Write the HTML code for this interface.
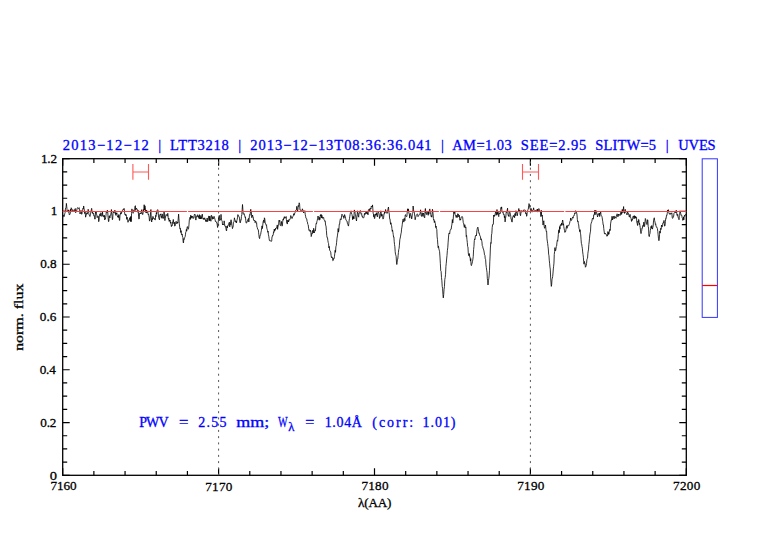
<!DOCTYPE html>
<html><head><meta charset="utf-8"><style>
html,body{margin:0;padding:0;background:#fff;}
body{width:782px;height:542px;overflow:hidden;}
svg{display:block;}
</style></head><body>
<svg width="782" height="542" viewBox="0 0 782 542">
<rect x="62.7" y="158.7" width="623.60" height="316.60" fill="none" stroke="#000" stroke-width="1.3"/>
<path d="M62.70 475.3v-7M62.70 158.7v7M93.88 475.3v-4.2M93.88 158.7v4.2M125.06 475.3v-4.2M125.06 158.7v4.2M156.24 475.3v-4.2M156.24 158.7v4.2M187.42 475.3v-4.2M187.42 158.7v4.2M218.60 475.3v-7M218.60 158.7v7M249.78 475.3v-4.2M249.78 158.7v4.2M280.96 475.3v-4.2M280.96 158.7v4.2M312.14 475.3v-4.2M312.14 158.7v4.2M343.32 475.3v-4.2M343.32 158.7v4.2M374.50 475.3v-7M374.50 158.7v7M405.68 475.3v-4.2M405.68 158.7v4.2M436.86 475.3v-4.2M436.86 158.7v4.2M468.04 475.3v-4.2M468.04 158.7v4.2M499.22 475.3v-4.2M499.22 158.7v4.2M530.40 475.3v-7M530.40 158.7v7M561.58 475.3v-4.2M561.58 158.7v4.2M592.76 475.3v-4.2M592.76 158.7v4.2M623.94 475.3v-4.2M623.94 158.7v4.2M655.12 475.3v-4.2M655.12 158.7v4.2M686.30 475.3v-7M686.30 158.7v7M62.7 475.30h7M686.3 475.30h-7M62.7 462.11h4.5M686.3 462.11h-4.5M62.7 448.92h4.5M686.3 448.92h-4.5M62.7 435.73h4.5M686.3 435.73h-4.5M62.7 422.53h7M686.3 422.53h-7M62.7 409.34h4.5M686.3 409.34h-4.5M62.7 396.15h4.5M686.3 396.15h-4.5M62.7 382.96h4.5M686.3 382.96h-4.5M62.7 369.77h7M686.3 369.77h-7M62.7 356.57h4.5M686.3 356.57h-4.5M62.7 343.38h4.5M686.3 343.38h-4.5M62.7 330.19h4.5M686.3 330.19h-4.5M62.7 317.00h7M686.3 317.00h-7M62.7 303.81h4.5M686.3 303.81h-4.5M62.7 290.62h4.5M686.3 290.62h-4.5M62.7 277.42h4.5M686.3 277.42h-4.5M62.7 264.23h7M686.3 264.23h-7M62.7 251.04h4.5M686.3 251.04h-4.5M62.7 237.85h4.5M686.3 237.85h-4.5M62.7 224.66h4.5M686.3 224.66h-4.5M62.7 211.47h7M686.3 211.47h-7M62.7 198.27h4.5M686.3 198.27h-4.5M62.7 185.08h4.5M686.3 185.08h-4.5M62.7 171.89h4.5M686.3 171.89h-4.5M62.7 158.70h7M686.3 158.70h-7" stroke="#000" stroke-width="1.2" fill="none"/>
<line x1="218.60" y1="158.7" x2="218.60" y2="475.3" stroke="#555" stroke-width="1.0" stroke-dasharray="2 4.243" stroke-dashoffset="3.486"/>
<line x1="530.40" y1="158.7" x2="530.40" y2="475.3" stroke="#555" stroke-width="1.0" stroke-dasharray="2 4.243" stroke-dashoffset="3.486"/>
<polyline points="63.00,215.00 63.40,215.12 63.80,216.77 64.20,216.50 64.50,214.89 64.80,213.49 65.10,212.70 65.42,208.98 65.75,207.73 66.08,207.39 66.40,203.40 66.73,206.50 67.07,209.89 67.40,210.80 67.72,211.55 68.04,212.15 68.36,212.22 68.68,209.82 69.00,212.70 69.30,214.93 69.60,214.60 69.92,214.41 70.25,213.45 70.58,209.21 70.90,210.80 71.20,207.75 71.50,208.60 71.80,209.50 72.13,209.23 72.47,210.82 72.80,210.80 73.10,210.93 73.40,211.98 73.70,211.40 74.03,209.81 74.35,210.61 74.67,210.12 75.00,208.90 75.33,208.54 75.67,212.74 76.00,210.80 76.33,211.00 76.67,211.33 77.00,208.90 77.38,207.87 77.75,207.59 78.12,208.08 78.50,208.50 78.85,207.89 79.20,207.60 79.50,210.68 79.80,212.24 80.10,214.00 80.43,212.26 80.77,210.43 81.10,210.80 81.40,210.85 81.70,214.30 82.00,213.30 82.33,210.39 82.67,210.27 83.00,208.20 83.33,208.84 83.67,205.97 84.00,208.20 84.30,209.97 84.60,213.56 84.90,213.30 85.25,212.23 85.60,217.20 85.90,215.85 86.20,215.31 86.50,214.60 86.83,212.74 87.17,214.08 87.50,212.70 87.83,211.97 88.17,209.24 88.50,210.80 88.80,213.54 89.10,214.80 89.40,215.30 89.73,216.29 90.07,216.59 90.40,214.00 90.70,213.14 91.00,211.38 91.30,209.80 91.65,208.35 92.00,210.80 92.30,212.79 92.60,212.02 92.90,214.00 93.23,213.95 93.57,213.37 93.90,215.90 94.20,215.52 94.50,217.24 94.80,219.10 95.13,219.10 95.47,212.19 95.80,213.30 96.13,211.55 96.47,214.53 96.80,214.60 97.10,217.63 97.40,217.20 97.70,217.20 98.03,215.85 98.37,216.42 98.70,221.70 99.00,220.50 99.30,217.13 99.60,216.50 99.92,213.87 100.25,216.07 100.58,215.30 100.90,212.70 101.23,214.20 101.57,215.60 101.90,216.50 102.20,214.95 102.50,212.10 102.82,215.51 103.14,215.07 103.46,215.94 103.78,217.00 104.10,217.20 104.43,215.28 104.77,219.99 105.10,218.50 105.40,218.87 105.70,217.16 106.00,215.30 106.33,211.04 106.65,211.75 106.97,212.66 107.30,210.10 107.70,211.25 108.10,217.56 108.50,221.70 108.83,221.30 109.17,215.87 109.50,215.90 109.83,217.99 110.15,216.08 110.47,214.70 110.80,214.60 111.10,212.54 111.40,209.50 111.73,213.87 112.07,216.48 112.40,219.70 112.70,218.89 113.00,213.64 113.30,212.10 113.62,211.15 113.95,213.01 114.27,211.17 114.60,210.80 114.90,210.11 115.20,213.49 115.50,212.70 115.83,215.33 116.17,212.90 116.50,214.00 116.83,212.73 117.15,215.40 117.47,216.18 117.80,217.20 118.10,215.89 118.40,217.57 118.70,214.60 119.05,215.96 119.40,220.40 119.70,220.36 120.00,214.63 120.30,214.60 120.62,212.62 120.95,213.95 121.27,213.89 121.60,211.40 121.92,212.21 122.25,210.97 122.58,210.19 122.90,209.50 123.23,209.48 123.55,209.86 123.88,208.49 124.20,208.50 124.50,211.67 124.80,214.00 125.12,215.01 125.45,214.30 125.77,215.60 126.10,214.60 126.43,216.32 126.77,219.35 127.10,217.20 127.40,219.39 127.70,219.96 128.00,222.30 128.33,220.87 128.67,220.55 129.00,219.70 129.32,220.46 129.65,217.95 129.98,218.40 130.30,217.20 130.60,221.46 130.90,216.35 131.20,221.70 131.55,213.61 131.90,208.90 132.30,210.73 132.70,212.43 133.10,213.30 133.43,212.56 133.75,210.45 134.07,210.98 134.40,208.90 134.73,208.26 135.07,205.98 135.40,205.70 135.70,210.41 136.00,208.37 136.30,208.90 136.62,208.37 136.95,209.35 137.28,209.46 137.60,210.10 137.93,212.26 138.25,210.51 138.57,216.12 138.90,219.10 139.20,218.68 139.50,213.48 139.80,213.30 140.12,212.82 140.44,213.97 140.76,213.44 141.08,214.02 141.40,211.40 141.72,209.65 142.05,212.47 142.38,213.29 142.70,214.60 143.05,212.98 143.40,209.50 143.78,210.76 144.16,204.72 144.54,209.99 144.92,205.81 145.30,207.60 145.60,211.17 145.90,212.70 146.22,209.99 146.55,212.01 146.88,213.07 147.20,210.80 147.52,211.38 147.85,212.69 148.18,214.40 148.50,214.00 148.82,215.81 149.15,217.07 149.48,221.10 149.80,220.40 150.17,218.34 150.53,212.69 150.90,209.50 151.30,219.87 151.70,222.00 152.07,218.45 152.43,219.71 152.80,216.50 153.15,216.55 153.50,217.60 153.85,218.91 154.20,218.30 154.60,219.53 155.00,220.10 155.33,219.86 155.67,215.41 156.00,216.50 156.35,212.61 156.70,214.17 157.05,210.18 157.40,210.00 157.70,209.69 158.00,210.26 158.30,213.70 158.60,217.43 158.90,218.49 159.20,219.20 159.50,219.88 159.80,214.73 160.10,214.60 160.45,215.08 160.80,213.84 161.15,217.17 161.50,216.50 161.83,218.25 162.17,213.90 162.50,214.60 162.80,218.17 163.10,218.55 163.40,218.30 163.70,216.20 164.00,211.68 164.30,212.80 164.60,218.81 164.90,220.60 165.30,218.46 165.70,215.70 166.10,214.60 166.45,214.97 166.80,214.76 167.15,216.17 167.50,213.70 167.85,213.32 168.20,217.70 168.55,219.38 168.90,218.30 169.20,221.41 169.50,219.90 169.80,221.10 170.13,220.28 170.47,223.23 170.80,222.00 171.10,224.47 171.40,226.60 171.80,225.25 172.20,225.67 172.60,222.00 172.95,222.05 173.30,219.45 173.65,222.77 174.00,223.80 174.35,222.17 174.70,226.10 175.07,225.96 175.43,223.84 175.80,222.00 176.15,221.31 176.50,222.44 176.85,223.92 177.20,222.90 177.50,222.09 177.80,223.02 178.10,220.10 178.60,214.10 178.95,218.86 179.30,223.80 179.67,226.89 180.03,229.10 180.40,228.40 180.75,232.44 181.10,230.64 181.45,234.59 181.80,234.90 182.15,233.94 182.50,236.97 182.85,237.51 183.20,242.30 183.50,242.97 183.80,238.59 184.10,239.50 184.43,238.55 184.77,237.35 185.10,236.70 185.43,234.83 185.75,232.16 186.07,231.58 186.40,229.40 186.73,231.15 187.07,227.60 187.40,226.60 187.80,228.00 188.20,229.30 188.60,228.40 188.97,224.74 189.33,219.78 189.70,218.30 190.05,217.24 190.40,219.46 190.75,215.16 191.10,217.40 191.43,216.15 191.75,218.21 192.07,217.54 192.40,216.00 192.75,216.59 193.10,218.36 193.45,217.97 193.80,218.30 194.15,215.61 194.50,214.10 194.85,214.57 195.20,214.60 195.55,218.73 195.90,220.10 196.20,218.05 196.50,216.35 196.80,216.50 197.18,215.60 197.56,214.72 197.94,217.10 198.32,215.77 198.70,217.80 199.06,218.55 199.42,214.66 199.78,218.89 200.14,217.64 200.50,218.80 200.85,215.41 201.20,218.94 201.55,216.96 201.90,216.90 202.25,214.13 202.60,216.74 202.95,219.06 203.30,219.20 203.65,218.16 204.00,219.67 204.35,219.27 204.70,217.80 205.05,219.37 205.40,219.44 205.75,221.53 206.10,220.10 206.45,221.44 206.80,221.48 207.15,218.02 207.50,221.50 207.82,221.47 208.15,220.71 208.48,216.93 208.80,216.00 209.15,216.22 209.50,220.76 209.85,216.14 210.20,219.70 210.55,219.35 210.90,221.24 211.25,215.16 211.60,215.50 211.95,217.01 212.30,219.28 212.65,216.74 213.00,217.40 213.35,218.34 213.70,218.95 214.05,216.34 214.40,217.80 214.75,218.49 215.10,219.89 215.45,221.51 215.80,221.10 216.10,221.65 216.40,222.01 216.70,222.90 217.00,222.91 217.30,225.43 217.60,227.50 217.90,226.07 218.20,222.12 218.50,219.20 218.80,216.69 219.10,215.47 219.40,215.50 219.73,220.73 220.07,219.68 220.40,219.20 220.70,219.69 221.00,214.38 221.30,217.80 221.60,219.83 221.90,220.72 222.20,221.10 222.50,224.86 222.80,224.21 223.10,224.80 223.45,224.35 223.80,224.88 224.15,220.83 224.50,223.40 224.85,226.20 225.20,226.39 225.55,226.10 225.90,228.40 226.25,230.29 226.60,230.91 226.95,226.00 227.30,228.00 227.65,225.85 228.00,226.14 228.35,224.83 228.70,223.40 229.05,222.90 229.40,222.14 229.75,226.88 230.10,223.80 230.43,224.68 230.75,220.66 231.07,219.76 231.40,221.10 231.75,225.25 232.10,225.78 232.45,228.63 232.80,227.50 233.10,226.88 233.40,222.53 233.70,222.00 234.05,221.92 234.40,217.81 234.75,219.45 235.10,220.10 235.45,220.71 235.80,222.28 236.15,221.11 236.50,222.90 236.85,220.64 237.20,219.44 237.55,217.24 237.90,214.60 238.30,216.19 238.70,216.18 239.10,216.50 239.47,218.15 239.83,221.95 240.20,222.90 240.50,222.04 240.80,219.79 241.10,220.10 241.45,216.41 241.80,214.60 242.15,209.55 242.50,204.50 242.85,209.14 243.20,214.10 243.53,214.20 243.87,213.83 244.20,213.70 244.50,215.20 244.80,215.97 245.10,217.40 245.45,216.89 245.80,220.78 246.15,223.11 246.50,222.90 246.82,222.75 247.15,221.02 247.48,221.17 247.80,219.70 248.13,219.02 248.47,218.39 248.80,222.00 249.10,219.62 249.40,215.67 249.70,214.60 250.05,215.26 250.40,212.07 250.75,209.31 251.10,212.80 251.40,212.47 251.70,217.63 252.00,216.50 252.30,216.23 252.60,215.05 252.90,217.40 253.20,217.15 253.50,219.98 253.80,220.10 254.13,220.85 254.47,220.37 254.80,220.10 255.10,222.66 255.40,221.83 255.70,221.10 256.00,221.67 256.30,223.20 256.60,222.90 256.95,227.01 257.30,227.61 257.65,229.31 258.00,229.40 258.30,229.61 258.60,232.84 258.90,234.90 259.25,237.84 259.60,238.60 259.95,236.31 260.30,234.90 260.65,234.65 261.00,232.09 261.35,230.71 261.70,227.50 262.05,225.81 262.40,228.57 262.75,225.24 263.10,222.00 263.43,220.63 263.75,220.04 264.07,222.74 264.40,217.80 264.75,218.79 265.10,222.11 265.45,223.77 265.80,223.80 266.15,225.21 266.50,224.85 266.85,228.28 267.20,229.40 267.50,230.54 267.80,232.29 268.10,231.20 268.43,234.84 268.77,236.17 269.10,238.60 269.40,240.48 269.70,240.61 270.00,240.40 270.35,240.96 270.70,240.98 271.05,240.78 271.40,241.40 271.70,240.86 272.00,236.69 272.30,236.70 272.60,235.16 272.90,235.51 273.20,234.90 273.55,231.78 273.90,232.40 274.25,229.11 274.60,231.20 274.90,229.24 275.20,230.19 275.50,228.40 275.85,229.02 276.20,227.87 276.55,227.38 276.90,227.50 277.25,224.92 277.60,229.34 277.95,226.92 278.30,225.70 278.60,225.47 278.90,220.64 279.20,220.10 279.50,221.39 279.80,220.50 280.10,224.80 280.43,225.64 280.77,225.54 281.10,223.80 281.43,221.43 281.75,224.67 282.07,226.17 282.40,225.70 282.73,221.19 283.07,219.23 283.40,220.10 283.72,218.05 284.05,218.26 284.38,216.65 284.70,218.30 285.05,217.90 285.40,217.77 285.75,217.90 286.10,216.50 286.40,219.52 286.70,222.69 287.00,222.40 287.32,224.07 287.64,220.27 287.96,221.40 288.28,220.49 288.60,222.00 288.96,219.55 289.32,220.20 289.68,219.49 290.04,219.38 290.40,217.80 290.76,215.54 291.12,216.18 291.48,218.13 291.84,217.98 292.20,218.40 292.60,216.93 293.00,216.31 293.40,215.40 293.76,213.66 294.12,215.25 294.48,214.13 294.84,212.87 295.20,212.40 295.60,210.59 296.00,210.54 296.40,210.00 296.80,206.32 297.20,209.33 297.60,211.20 297.92,209.58 298.24,205.58 298.56,206.46 298.88,204.70 299.20,202.80 299.60,204.33 300.00,210.00 300.40,210.02 300.80,210.33 301.20,211.20 301.60,211.09 302.00,210.52 302.40,208.80 302.80,210.15 303.20,210.32 303.60,213.00 304.00,211.98 304.40,211.30 304.80,210.60 305.20,214.30 305.60,216.24 306.00,218.40 306.36,218.52 306.72,218.77 307.08,221.44 307.44,222.09 307.80,224.40 308.20,224.73 308.60,228.23 309.00,230.40 309.36,229.78 309.72,230.80 310.08,231.54 310.44,230.26 310.80,231.00 311.20,236.59 311.60,235.20 311.93,233.12 312.27,233.65 312.60,230.40 312.96,231.06 313.32,233.03 313.68,228.28 314.04,231.19 314.40,232.80 314.76,231.25 315.12,229.86 315.48,230.54 315.84,225.60 316.20,223.20 316.56,223.68 316.92,221.47 317.28,220.30 317.64,218.21 318.00,216.00 318.40,217.17 318.80,219.56 319.20,220.20 319.56,217.38 319.92,219.57 320.28,215.07 320.64,215.77 321.00,214.20 321.36,217.98 321.72,215.06 322.08,216.03 322.44,218.34 322.80,217.20 323.20,218.04 323.60,217.59 324.00,219.60 324.40,220.39 324.80,221.27 325.20,220.80 325.60,225.07 326.00,226.04 326.40,230.40 326.76,235.43 327.12,237.70 327.48,237.63 327.84,240.40 328.20,242.40 328.56,243.44 328.92,247.88 329.28,246.38 329.64,250.13 330.00,250.80 330.36,251.28 330.72,252.16 331.08,255.48 331.44,257.60 331.80,256.80 332.15,257.68 332.50,257.58 332.85,260.72 333.20,260.40 333.52,258.89 333.84,257.99 334.16,258.36 334.48,256.34 334.80,253.20 335.16,250.26 335.52,252.31 335.88,246.73 336.24,245.74 336.60,242.40 337.00,238.23 337.40,235.93 337.80,232.80 338.16,228.50 338.52,232.12 338.88,229.81 339.24,224.26 339.60,224.40 340.00,220.54 340.40,218.77 340.80,219.60 341.20,219.56 341.60,215.31 342.00,214.20 342.36,214.95 342.72,215.41 343.08,216.54 343.44,215.93 343.80,218.40 344.20,217.60 344.60,214.58 345.00,215.90 345.32,216.92 345.65,218.61 345.98,219.98 346.30,220.40 346.68,221.07 347.06,221.08 347.44,223.70 347.82,223.75 348.20,225.50 348.52,226.10 348.85,223.15 349.18,220.08 349.50,218.50 349.82,216.25 350.14,214.37 350.46,212.47 350.78,211.81 351.10,210.80 351.40,212.51 351.70,214.11 352.00,214.60 352.32,216.43 352.65,219.70 352.98,216.47 353.30,218.50 353.62,216.59 353.95,218.84 354.28,209.92 354.60,210.80 354.90,211.28 355.20,213.59 355.50,214.60 355.83,216.96 356.17,219.48 356.50,221.00 356.83,217.24 357.17,214.75 357.50,210.80 357.90,213.01 358.30,216.22 358.70,217.20 359.02,212.91 359.35,212.97 359.68,212.85 360.00,211.40 360.32,210.50 360.65,211.13 360.98,214.29 361.30,214.00 361.63,213.66 361.97,216.22 362.30,215.90 362.70,217.65 363.10,217.63 363.50,217.80 363.82,217.76 364.15,216.04 364.48,213.29 364.80,214.60 365.12,213.93 365.45,214.03 365.78,211.93 366.10,212.10 366.42,212.19 366.74,213.70 367.06,211.50 367.38,214.02 367.70,213.30 368.03,214.83 368.37,209.93 368.70,209.50 369.08,209.46 369.46,208.75 369.84,211.03 370.22,208.93 370.60,208.20 370.93,209.07 371.25,206.21 371.57,206.75 371.90,206.30 372.20,206.92 372.50,204.90 372.80,208.20 373.15,213.26 373.50,214.00 373.80,216.85 374.10,214.38 374.40,218.50 374.72,218.49 375.05,216.05 375.38,215.80 375.70,214.00 376.02,215.02 376.35,212.70 376.68,215.11 377.00,215.90 377.40,216.87 377.80,212.50 378.20,212.10 378.52,212.17 378.85,213.26 379.18,215.07 379.50,218.50 379.82,217.08 380.15,217.19 380.48,213.37 380.80,210.80 381.13,212.23 381.47,216.28 381.80,214.00 382.20,214.92 382.60,216.39 383.00,219.10 383.32,218.62 383.65,217.37 383.98,213.75 384.30,214.00 384.62,211.61 384.94,213.16 385.26,212.45 385.58,209.48 385.90,210.80 386.22,211.12 386.55,211.24 386.88,213.37 387.20,213.30 387.52,211.55 387.85,210.02 388.18,208.04 388.50,207.00 388.90,212.08 389.30,214.00 389.63,218.75 389.97,218.78 390.30,222.00 390.62,224.22 390.95,222.76 391.28,224.96 391.60,225.80 391.93,228.55 392.25,231.32 392.57,230.10 392.90,232.30 393.22,234.44 393.55,237.09 393.88,236.80 394.20,241.30 394.52,244.55 394.85,246.74 395.18,251.53 395.50,254.20 395.82,255.08 396.15,256.38 396.48,261.98 396.80,264.50 397.12,262.64 397.45,259.18 397.78,259.08 398.10,255.50 398.43,252.52 398.75,249.44 399.07,248.49 399.40,245.20 399.80,239.81 400.20,238.12 400.60,236.10 400.93,233.82 401.25,232.87 401.57,229.11 401.90,227.10 402.30,224.21 402.70,220.40 403.08,219.16 403.46,220.33 403.84,222.12 404.22,218.33 404.60,219.10 404.90,220.75 405.20,215.30 405.52,214.63 405.85,215.93 406.18,216.46 406.50,216.50 406.88,216.52 407.26,211.60 407.64,208.79 408.02,211.33 408.40,208.90 408.73,211.99 409.07,213.64 409.40,214.60 409.70,218.11 410.00,214.04 410.30,213.30 410.64,214.46 410.98,216.25 411.32,216.19 411.66,218.92 412.00,217.20 412.38,213.34 412.75,212.64 413.12,206.03 413.50,209.20 413.83,212.02 414.17,211.84 414.50,214.00 414.83,216.65 415.17,219.76 415.50,217.80 415.90,216.72 416.30,215.28 416.70,214.60 417.02,214.11 417.34,213.86 417.66,214.43 417.98,216.60 418.30,215.90 418.62,215.63 418.95,215.35 419.28,214.67 419.60,214.60 419.93,214.37 420.27,212.14 420.60,209.80 420.90,212.64 421.20,215.90 421.52,216.42 421.85,214.72 422.18,212.75 422.50,214.00 422.82,216.33 423.15,215.00 423.48,213.01 423.80,214.60 424.10,217.28 424.40,217.25 424.70,217.80 425.05,210.80 425.40,208.50 425.70,212.95 426.00,213.07 426.30,214.60 426.65,214.34 427.00,211.40 427.40,213.00 427.80,213.78 428.20,215.30 428.52,211.70 428.84,214.20 429.16,211.51 429.48,209.75 429.80,208.90 430.13,211.33 430.47,212.82 430.80,214.60 431.13,216.48 431.47,215.78 431.80,217.20 432.10,214.78 432.40,209.26 432.70,210.10 433.05,213.67 433.40,218.50 433.70,220.11 434.00,219.70 434.33,222.54 434.67,220.82 435.00,222.20 435.36,223.48 435.72,227.50 436.08,226.09 436.44,229.14 436.80,229.50 437.13,236.95 437.47,239.43 437.80,244.30 438.16,247.62 438.52,246.19 438.88,249.05 439.24,250.10 439.60,251.70 439.98,257.05 440.36,263.75 440.74,270.82 441.12,271.42 441.50,277.60 441.86,280.80 442.22,286.47 442.58,288.20 442.94,294.59 443.30,297.90 443.68,294.70 444.06,289.36 444.44,286.52 444.82,279.34 445.20,277.60 445.56,274.30 445.92,266.40 446.28,263.24 446.64,259.01 447.00,255.40 447.38,250.36 447.76,247.81 448.14,242.20 448.52,237.04 448.90,233.20 449.27,233.22 449.65,233.97 450.02,230.81 450.40,230.00 450.80,229.18 451.20,229.13 451.60,225.90 451.98,224.08 452.36,219.53 452.74,222.98 453.12,220.33 453.50,214.80 453.82,211.12 454.15,213.34 454.48,213.33 454.80,212.00 455.15,214.82 455.50,215.75 455.85,215.72 456.20,217.50 456.58,215.38 456.96,216.57 457.34,217.43 457.72,213.71 458.10,214.80 458.48,214.36 458.86,216.96 459.24,215.19 459.62,218.81 460.00,220.30 460.33,219.12 460.66,219.92 460.99,217.66 461.31,216.86 461.64,217.07 461.97,217.05 462.30,216.60 462.62,217.20 462.95,219.82 463.28,222.53 463.60,223.00 463.98,225.72 464.36,227.44 464.74,224.64 465.12,226.13 465.50,227.70 465.86,226.94 466.22,236.47 466.58,235.49 466.94,239.49 467.30,242.50 467.62,246.51 467.95,246.91 468.28,252.87 468.60,255.40 468.98,255.81 469.35,253.56 469.73,257.19 470.10,257.20 470.43,261.09 470.75,258.60 471.07,264.71 471.40,265.60 471.77,264.29 472.15,263.06 472.52,261.39 472.90,259.10 473.25,256.43 473.60,249.51 473.95,246.54 474.30,240.60 474.64,238.89 474.98,239.49 475.32,236.08 475.66,236.04 476.00,235.10 476.38,235.85 476.75,232.07 477.12,229.31 477.50,227.70 477.86,227.08 478.22,228.71 478.58,231.29 478.94,233.51 479.30,233.20 479.68,234.96 480.06,236.23 480.44,236.50 480.82,239.71 481.20,238.80 481.56,240.05 481.92,241.66 482.28,245.65 482.64,246.26 483.00,248.00 483.38,249.06 483.76,250.10 484.14,252.05 484.52,254.86 484.90,255.40 485.26,258.89 485.62,259.51 485.98,264.92 486.34,267.51 486.70,270.20 487.02,272.40 487.35,278.76 487.68,280.88 488.00,285.00 488.38,280.80 488.75,278.79 489.12,275.88 489.50,270.20 489.80,261.77 490.10,256.06 490.40,248.00 490.76,242.63 491.12,243.35 491.48,235.08 491.84,233.55 492.20,227.70 492.58,224.51 492.96,224.48 493.34,224.37 493.72,215.01 494.10,216.60 494.48,215.03 494.86,215.51 495.24,213.70 495.62,211.92 496.00,212.00 496.32,215.23 496.65,212.12 496.98,209.53 497.30,212.00 497.67,214.48 498.03,211.82 498.40,215.60 498.75,216.63 499.10,213.33 499.45,213.72 499.80,212.80 500.18,213.62 500.55,210.83 500.93,207.49 501.30,208.50 501.65,206.86 502.00,212.07 502.35,212.31 502.70,212.10 503.05,211.40 503.40,214.44 503.75,214.42 504.10,214.20 504.43,217.74 504.77,215.94 505.10,221.90 505.47,218.18 505.83,216.72 506.20,212.10 506.53,212.50 506.87,212.02 507.20,210.00 507.57,208.18 507.93,213.99 508.30,215.60 508.63,214.94 508.97,216.63 509.30,211.40 509.67,210.90 510.03,212.77 510.40,214.20 510.75,216.18 511.10,219.38 511.45,219.31 511.80,221.90 512.15,222.05 512.50,217.57 512.85,217.58 513.20,215.60 513.55,215.33 513.90,216.89 514.25,216.14 514.60,217.70 514.95,213.55 515.30,215.84 515.65,212.91 516.00,210.70 516.35,211.09 516.70,213.45 517.05,215.86 517.40,215.60 517.75,212.36 518.10,211.88 518.45,211.08 518.80,208.50 519.15,210.89 519.50,211.20 519.85,210.14 520.20,214.90 520.55,215.71 520.90,213.29 521.25,211.77 521.60,210.70 521.95,210.63 522.30,211.80 522.65,211.11 523.00,212.10 523.38,210.04 523.75,209.94 524.12,209.63 524.50,210.00 524.85,209.96 525.20,210.01 525.55,213.58 525.90,213.50 526.25,212.94 526.60,216.30 526.93,215.42 527.27,211.04 527.60,210.70 527.95,209.45 528.30,209.21 528.65,205.68 529.00,203.60 529.35,204.25 529.70,207.10 530.07,208.37 530.43,209.72 530.80,210.70 531.15,208.45 531.50,210.49 531.85,211.99 532.20,212.10 532.55,210.32 532.90,210.07 533.25,209.98 533.60,207.80 533.95,209.85 534.30,210.96 534.65,211.38 535.00,211.40 535.35,210.62 535.70,210.67 536.05,209.94 536.40,210.00 536.75,210.06 537.10,210.78 537.45,208.99 537.80,212.10 538.15,210.90 538.50,210.66 538.85,208.54 539.20,209.30 539.55,210.14 539.90,211.82 540.25,211.68 540.60,212.80 540.93,216.61 541.27,210.29 541.60,214.90 541.96,216.13 542.32,215.24 542.68,220.99 543.04,225.04 543.40,222.60 543.80,220.75 544.20,226.59 544.60,228.30 544.90,227.98 545.20,225.65 545.50,225.00 545.90,229.13 546.30,231.60 546.64,231.22 546.98,238.84 547.32,241.10 547.66,243.55 548.00,246.50 548.32,248.96 548.64,254.14 548.96,255.79 549.28,260.19 549.60,263.20 549.94,267.07 550.28,269.11 550.62,277.07 550.96,282.06 551.30,286.40 551.64,284.85 551.98,279.73 552.32,278.31 552.66,276.61 553.00,273.00 553.32,268.92 553.64,266.26 553.96,263.09 554.28,254.44 554.60,251.50 554.94,247.62 555.28,250.78 555.62,250.79 555.96,248.88 556.30,246.50 556.64,246.06 556.98,242.25 557.32,240.45 557.66,241.19 558.00,238.20 558.32,234.51 558.64,230.84 558.96,229.74 559.28,232.66 559.60,226.60 559.94,229.17 560.28,224.93 560.62,224.55 560.96,225.67 561.30,225.00 561.62,223.04 561.94,225.29 562.26,222.36 562.58,220.01 562.90,220.80 563.20,224.70 563.50,223.79 563.80,226.60 564.17,228.87 564.53,230.45 564.90,232.40 565.27,231.25 565.63,231.52 566.00,229.31 566.37,226.90 566.73,225.67 567.10,228.30 567.46,225.69 567.81,225.73 568.17,226.12 568.53,225.53 568.89,225.56 569.24,224.19 569.60,223.30 569.96,221.40 570.31,220.81 570.67,217.98 571.03,220.19 571.39,220.46 571.74,219.81 572.10,218.30 572.42,217.62 572.74,217.04 573.06,218.20 573.38,216.32 573.70,215.80 574.04,215.91 574.38,214.67 574.72,213.12 575.06,213.76 575.40,210.80 575.72,210.78 576.04,211.94 576.36,212.11 576.68,212.96 577.00,215.00 577.34,219.31 577.68,221.60 578.02,220.97 578.36,223.77 578.70,224.90 579.04,228.32 579.38,229.43 579.72,231.69 580.06,229.65 580.40,233.20 580.72,234.90 581.04,239.20 581.36,243.33 581.68,244.00 582.00,246.50 582.34,248.21 582.68,251.97 583.02,254.51 583.36,257.21 583.70,261.50 584.03,264.18 584.35,261.41 584.67,262.81 585.00,263.20 585.40,267.24 585.80,266.58 586.20,265.60 586.54,263.62 586.88,259.72 587.22,258.78 587.56,258.11 587.90,253.20 588.22,251.13 588.54,249.09 588.86,244.35 589.18,241.97 589.50,238.20 589.84,234.92 590.18,232.88 590.52,231.21 590.86,224.13 591.20,223.30 591.56,222.02 591.91,221.29 592.27,218.89 592.63,218.10 592.99,218.55 593.34,219.19 593.70,215.00 594.05,215.16 594.40,213.92 594.75,210.32 595.10,214.76 595.45,211.20 595.80,210.30 596.14,211.59 596.48,211.30 596.82,214.23 597.16,214.02 597.50,217.00 597.80,216.01 598.10,215.50 598.40,213.70 598.72,213.93 599.04,214.48 599.36,212.96 599.68,216.56 600.00,214.60 600.33,213.62 600.67,211.87 601.00,214.60 601.38,215.69 601.75,216.20 602.12,217.21 602.50,220.10 602.82,221.75 603.14,224.90 603.46,224.87 603.78,228.61 604.10,231.00 604.48,233.89 604.85,233.52 605.23,233.02 605.60,234.00 605.93,234.49 606.27,234.42 606.60,234.83 606.93,236.30 607.27,235.36 607.60,235.80 607.92,231.55 608.24,234.49 608.56,232.55 608.88,234.22 609.20,232.60 609.54,229.90 609.89,229.25 610.23,230.51 610.57,223.89 610.91,221.98 611.26,219.77 611.60,220.10 611.93,216.28 612.26,216.83 612.59,219.96 612.91,218.23 613.24,216.15 613.57,216.50 613.90,218.50 614.26,218.90 614.61,216.29 614.97,216.38 615.32,216.91 615.68,217.92 616.03,218.28 616.39,216.39 616.74,214.54 617.10,213.80 617.44,214.25 617.79,216.86 618.13,216.48 618.48,214.05 618.82,215.38 619.17,215.30 619.51,215.12 619.86,214.47 620.20,215.40 620.54,212.71 620.89,213.20 621.23,210.98 621.58,214.44 621.92,212.70 622.27,209.39 622.61,212.59 622.96,211.14 623.30,209.10 623.62,206.56 623.94,212.50 624.26,211.27 624.58,213.48 624.90,210.70 625.24,209.30 625.59,212.38 625.93,212.66 626.27,212.77 626.61,213.17 626.96,214.94 627.30,213.80 627.63,212.02 627.96,212.85 628.29,213.08 628.61,214.79 628.94,215.18 629.27,217.09 629.60,217.00 630.00,214.30 630.38,216.47 630.75,217.90 631.12,218.61 631.50,221.40 631.88,219.46 632.25,220.28 632.62,218.72 633.00,216.30 633.34,216.51 633.69,215.93 634.03,218.80 634.38,215.63 634.72,217.55 635.07,218.36 635.41,216.29 635.76,217.98 636.10,216.80 636.48,217.30 636.85,222.67 637.23,223.62 637.60,225.50 637.93,221.09 638.27,222.44 638.60,219.40 638.92,219.68 639.24,224.56 639.56,223.24 639.88,225.63 640.20,227.50 640.60,230.97 641.00,233.60 641.34,231.48 641.68,230.75 642.02,227.91 642.36,228.13 642.70,225.50 643.08,225.76 643.45,226.32 643.83,222.12 644.20,226.50 644.58,226.47 644.95,223.00 645.33,218.50 645.70,219.40 646.07,221.21 646.43,223.43 646.80,224.40 647.13,224.51 647.47,219.78 647.80,219.90 648.17,226.40 648.55,228.01 648.92,236.02 649.30,236.60 649.63,234.35 649.97,233.55 650.30,230.50 650.67,228.70 651.05,226.33 651.42,228.39 651.80,225.50 652.13,227.53 652.47,229.14 652.80,227.50 653.17,225.92 653.53,220.91 653.90,218.90 654.27,217.78 654.65,220.67 655.02,222.01 655.40,224.40 655.73,223.86 656.07,226.64 656.40,226.94 656.73,226.73 657.07,228.08 657.40,228.50 657.77,231.33 658.15,234.92 658.52,238.78 658.90,240.70 659.22,239.70 659.54,234.79 659.86,231.12 660.18,233.08 660.50,228.50 660.83,228.34 661.17,229.49 661.50,225.04 661.83,226.67 662.17,226.87 662.50,226.50 662.88,222.81 663.25,222.68 663.62,223.01 664.00,220.40 664.33,223.72 664.67,226.19 665.00,225.50 665.38,221.65 665.75,218.30 666.12,218.63 666.50,215.30 666.88,215.59 667.26,213.35 667.64,209.99 668.02,211.99 668.40,209.70 668.80,212.42 669.20,213.60 669.60,214.30 669.98,213.19 670.35,214.01 670.73,214.36 671.10,212.80 671.48,213.36 671.85,212.83 672.23,217.49 672.60,218.40 672.95,218.02 673.30,216.22 673.65,216.43 674.00,213.12 674.35,212.78 674.70,211.80 675.08,210.94 675.45,211.86 675.83,212.99 676.20,210.20 676.58,210.85 676.95,215.33 677.33,215.57 677.70,214.30 678.03,216.85 678.37,217.91 678.70,218.40 679.02,219.74 679.34,215.49 679.66,214.27 679.98,211.53 680.30,211.80 680.67,213.38 681.05,215.57 681.42,215.22 681.80,215.30 682.13,217.63 682.47,218.40 682.80,220.40 683.13,219.97 683.47,216.90 683.80,219.92 684.13,217.05 684.47,215.33 684.80,216.30 685.20,214.84 685.60,214.40 686.00,215.30" fill="none" stroke="#000" stroke-width="0.8" stroke-linejoin="round"/>
<path d="M62.7 211.5H186.9M188.1 211.5H312.9M314.1 211.5H438.9M440.1 211.5H564.2M565.4 211.5H686.3" stroke="#ff4040" stroke-width="1.0" fill="none"/>
<path d="M132.9 164.1V179.8M148.5 164.1V179.8M132.9 172H148.5" stroke="#ff5858" stroke-width="1.1" fill="none"/>
<path d="M522.5 164.1V179.8M538.5 164.1V179.8M522.5 172H538.5" stroke="#ff5858" stroke-width="1.1" fill="none"/>
<rect x="702.2" y="158.8" width="15.2" height="158.6" fill="none" stroke="#3333ff" stroke-width="1"/>
<line x1="702.2" y1="285.5" x2="717.4" y2="285.5" stroke="#ff0000" stroke-width="1.2"/>
<text x="40.97" y="162.89" font-size="13.2" fill="#000" stroke="#000" stroke-width="0.3" text-anchor="start" font-weight="normal" font-family="'Liberation Serif', serif" textLength="16.01" lengthAdjust="spacing">1.2</text>
<text x="50.86" y="215.30" font-size="13.2" fill="#000" stroke="#000" stroke-width="0.3" text-anchor="start" font-weight="normal" font-family="'Liberation Serif', serif" textLength="6.55" lengthAdjust="spacingAndGlyphs">1</text>
<text x="40.36" y="268.48" font-size="13.2" fill="#000" stroke="#000" stroke-width="0.3" text-anchor="start" font-weight="normal" font-family="'Liberation Serif', serif" textLength="16.30" lengthAdjust="spacing">0.8</text>
<text x="39.86" y="321.26" font-size="13.2" fill="#000" stroke="#000" stroke-width="0.3" text-anchor="start" font-weight="normal" font-family="'Liberation Serif', serif" textLength="16.46" lengthAdjust="spacing">0.6</text>
<text x="39.65" y="374.21" font-size="13.2" fill="#000" stroke="#000" stroke-width="0.3" text-anchor="start" font-weight="normal" font-family="'Liberation Serif', serif" textLength="16.09" lengthAdjust="spacing">0.4</text>
<text x="40.28" y="426.79" font-size="13.2" fill="#000" stroke="#000" stroke-width="0.3" text-anchor="start" font-weight="normal" font-family="'Liberation Serif', serif" textLength="16.07" lengthAdjust="spacing">0.2</text>
<text x="49.74" y="479.85" font-size="13.2" fill="#000" stroke="#000" stroke-width="0.3" text-anchor="start" font-weight="normal" font-family="'Liberation Serif', serif" textLength="7.24" lengthAdjust="spacingAndGlyphs">0</text>
<text x="50.41" y="490.18" font-size="13.2" fill="#000" stroke="#000" stroke-width="0.3" text-anchor="start" font-weight="normal" font-family="'Liberation Serif', serif" textLength="26.07" lengthAdjust="spacing">7160</text>
<text x="205.32" y="490.50" font-size="13.2" fill="#000" stroke="#000" stroke-width="0.3" text-anchor="start" font-weight="normal" font-family="'Liberation Serif', serif" textLength="26.96" lengthAdjust="spacing">7170</text>
<text x="361.43" y="490.24" font-size="13.2" fill="#000" stroke="#000" stroke-width="0.3" text-anchor="start" font-weight="normal" font-family="'Liberation Serif', serif" textLength="27.11" lengthAdjust="spacing">7180</text>
<text x="517.22" y="490.04" font-size="13.2" fill="#000" stroke="#000" stroke-width="0.3" text-anchor="start" font-weight="normal" font-family="'Liberation Serif', serif" textLength="27.23" lengthAdjust="spacing">7190</text>
<text x="672.93" y="490.04" font-size="13.2" fill="#000" stroke="#000" stroke-width="0.3" text-anchor="start" font-weight="normal" font-family="'Liberation Serif', serif" textLength="27.44" lengthAdjust="spacing">7200</text>
<text x="358.08" y="506.95" font-size="13.2" fill="#000" stroke="#000" stroke-width="0.3" text-anchor="start" font-weight="normal" font-family="'Liberation Serif', serif" textLength="33.40" lengthAdjust="spacing">λ(AA)</text>
<text x="0.00" y="0.00" font-size="13.5" fill="#000" stroke="#000" stroke-width="0.3" text-anchor="start" font-weight="normal" font-family="'Liberation Serif', serif" textLength="67.23" lengthAdjust="spacingAndGlyphs" transform="translate(23.43 350.86) rotate(-90)">norm. flux</text>
<text x="62.70" y="150.40" font-size="14.5" fill="#0000ff" stroke="#0000ff" stroke-width="0.3" text-anchor="start" font-weight="normal" font-family="'Liberation Serif', serif" textLength="86.04" lengthAdjust="spacing">2013−12−12</text>
<text x="158.27" y="150.40" font-size="14.5" fill="#0000ff" stroke="#0000ff" stroke-width="0.3" text-anchor="start" font-weight="normal" font-family="'Liberation Serif', serif">|</text>
<text x="170.11" y="150.40" font-size="14.5" fill="#0000ff" stroke="#0000ff" stroke-width="0.3" text-anchor="start" font-weight="normal" font-family="'Liberation Serif', serif" textLength="58.57" lengthAdjust="spacing">LTT3218</text>
<text x="238.27" y="150.40" font-size="14.5" fill="#0000ff" stroke="#0000ff" stroke-width="0.3" text-anchor="start" font-weight="normal" font-family="'Liberation Serif', serif">|</text>
<text x="250.36" y="150.40" font-size="14.5" fill="#0000ff" stroke="#0000ff" stroke-width="0.3" text-anchor="start" font-weight="normal" font-family="'Liberation Serif', serif" textLength="181.25" lengthAdjust="spacing">2013−12−13T08:36:36.041</text>
<text x="441.10" y="150.40" font-size="14.5" fill="#0000ff" stroke="#0000ff" stroke-width="0.3" text-anchor="start" font-weight="normal" font-family="'Liberation Serif', serif">|</text>
<text x="452.13" y="150.40" font-size="14.5" fill="#0000ff" stroke="#0000ff" stroke-width="0.3" text-anchor="start" font-weight="normal" font-family="'Liberation Serif', serif" textLength="59.52" lengthAdjust="spacing">AM=1.03</text>
<text x="520.73" y="150.40" font-size="14.5" fill="#0000ff" stroke="#0000ff" stroke-width="0.3" text-anchor="start" font-weight="normal" font-family="'Liberation Serif', serif" textLength="65.60" lengthAdjust="spacing">SEE=2.95</text>
<text x="595.18" y="150.40" font-size="14.5" fill="#0000ff" stroke="#0000ff" stroke-width="0.3" text-anchor="start" font-weight="normal" font-family="'Liberation Serif', serif" textLength="60.88" lengthAdjust="spacing">SLITW=5</text>
<text x="665.80" y="150.40" font-size="14.5" fill="#0000ff" stroke="#0000ff" stroke-width="0.3" text-anchor="start" font-weight="normal" font-family="'Liberation Serif', serif">|</text>
<text x="678.28" y="150.40" font-size="14.5" fill="#0000ff" stroke="#0000ff" stroke-width="0.3" text-anchor="start" font-weight="normal" font-family="'Liberation Serif', serif" textLength="37.40" lengthAdjust="spacing">UVES</text>
<text x="139.26" y="427.30" font-size="14.0" fill="#0000ff" stroke="#0000ff" stroke-width="0.3" text-anchor="start" font-weight="normal" font-family="'Liberation Serif', serif" textLength="29.27" lengthAdjust="spacing">PWV</text>
<text x="178.98" y="427.30" font-size="14.0" fill="#0000ff" stroke="#0000ff" stroke-width="0.3" text-anchor="start" font-weight="normal" font-family="'Liberation Serif', serif" textLength="9.37" lengthAdjust="spacingAndGlyphs">=</text>
<text x="198.35" y="427.30" font-size="14.0" fill="#0000ff" stroke="#0000ff" stroke-width="0.3" text-anchor="start" font-weight="normal" font-family="'Liberation Serif', serif" textLength="28.20" lengthAdjust="spacing">2.55</text>
<text x="236.34" y="427.30" font-size="14.0" fill="#0000ff" stroke="#0000ff" stroke-width="0.3" text-anchor="start" font-weight="normal" font-family="'Liberation Serif', serif" textLength="32.99" lengthAdjust="spacingAndGlyphs">mm;</text>
<text x="277.91" y="427.30" font-size="14.0" fill="#0000ff" stroke="#0000ff" stroke-width="0.3" text-anchor="start" font-weight="normal" font-family="'Liberation Serif', serif" textLength="9.62" lengthAdjust="spacingAndGlyphs">W</text>
<text x="305.22" y="427.30" font-size="14.0" fill="#0000ff" stroke="#0000ff" stroke-width="0.3" text-anchor="start" font-weight="normal" font-family="'Liberation Serif', serif" textLength="9.01" lengthAdjust="spacingAndGlyphs">=</text>
<text x="324.64" y="427.30" font-size="14.0" fill="#0000ff" stroke="#0000ff" stroke-width="0.3" text-anchor="start" font-weight="normal" font-family="'Liberation Serif', serif" textLength="37.28" lengthAdjust="spacing">1.04Å</text>
<text x="372.26" y="427.30" font-size="14.0" fill="#0000ff" stroke="#0000ff" stroke-width="0.3" text-anchor="start" font-weight="normal" font-family="'Liberation Serif', serif" textLength="40.97" lengthAdjust="spacing">(corr:</text>
<text x="422.50" y="427.30" font-size="14.0" fill="#0000ff" stroke="#0000ff" stroke-width="0.3" text-anchor="start" font-weight="normal" font-family="'Liberation Serif', serif" textLength="33.01" lengthAdjust="spacing">1.01)</text>
<text x="288.20" y="431.30" font-size="12.5" fill="#0000ff" stroke="#0000ff" stroke-width="0.3" text-anchor="start" font-weight="normal" font-family="'Liberation Serif', serif">λ</text>
</svg>
</body></html>
